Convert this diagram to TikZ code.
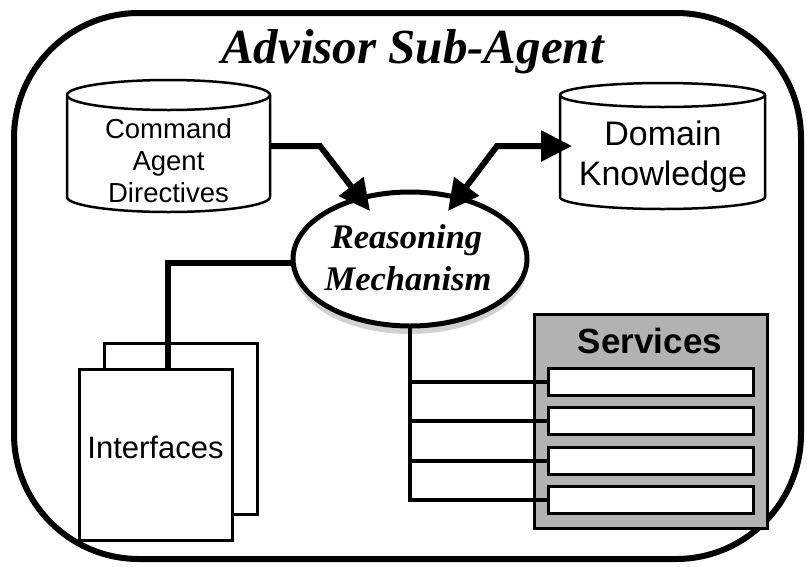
\documentclass[tikz,border=0pt]{standalone}
\usepackage{fontspec}
\setmainfont{Liberation Serif}
\setsansfont{Liberation Sans}
\usetikzlibrary{arrows.meta,shapes.geometric}

% Cylinder (data store) outline: left x, right x, centre y of top rim,
% y of bottom corners, vertical radius of the rims
\newcommand\drawdrum[5]{%
  \pgfmathsetmacro\drumrx{(#2-#1)/2}%
  \draw[drumline] (#1,#4) -- (#1,#3)
    arc[start angle=180,end angle=0,x radius=\drumrx pt,y radius=#5pt]
    -- (#2,#4)
    arc[start angle=0,end angle=-180,x radius=\drumrx pt,y radius=#5pt]
    -- cycle;
  \draw[drumline] (#1,#3)
    arc[start angle=180,end angle=360,x radius=\drumrx pt,y radius=#5pt];}

\tikzset{
  hold/.style={inner sep=0pt,outer sep=0pt},
  drumline/.style={line width=2.5pt,fill=white},
  frame/.style={draw,line width=6pt,rounded corners=125pt,hold},
  heavy/.style={line width=6pt},
  bigtip/.style={-{Triangle[length=31pt,width=30pt]}},
  twotips/.style={{Triangle[length=31pt,width=30pt]}-{Triangle[length=31pt,width=30pt]}},
  sheet/.style={draw,line width=3pt,fill=white,hold,minimum width=153pt,minimum height=171pt},
  svcbox/.style={draw,line width=3pt,fill=black!30,hold,minimum width=233pt,minimum height=214pt},
  slot/.style={draw,line width=3pt,fill=white,hold,minimum width=205pt,minimum height=27pt},
  wire/.style={line width=4pt},
  titlefont/.style={font=\fontsize{49}{52}\selectfont\bfseries\itshape},
  reasonfont/.style={font=\fontsize{34.5}{38}\selectfont\bfseries\itshape},
  cmdfont/.style={font=\fontsize{27.5}{30}\selectfont\sffamily},
  domfont/.style={font=\fontsize{34}{38}\selectfont\sffamily},
  ifont/.style={font=\fontsize{31}{34}\selectfont\sffamily},
  svcfont/.style={font=\fontsize{35}{38}\selectfont\sffamily\bfseries},
}

\begin{document}
\begin{tikzpicture}[x=1pt,y=-1pt]
\useasboundingbox (0,0) rectangle (807,566);

% outer agent boundary and its title
\node[frame,minimum width=787pt,minimum height=546pt] (agent) at (407.5,286) {};
\node[titlefont,anchor=base] (title) at (412.5,63) {Advisor Sub-Agent};

% data stores
\drawdrum{67}{270}{95}{197}{15}
\node[hold,minimum width=203pt,minimum height=128pt] (cmd) at (168.5,146) {};
\node[cmdfont,anchor=base] (cmd1) at (168.5,138) {Command};
\node[cmdfont,anchor=base] (cmd2) at (168.5,170) {Agent};
\node[cmdfont,anchor=base] (cmd3) at (168.5,202) {Directives};

\drawdrum{560}{765}{95}{197}{12}
\node[hold,minimum width=205pt,minimum height=128pt] (dom) at (662.5,146) {};
\node[domfont,anchor=base] (dom1) at (663,145) {Domain};
\node[domfont,anchor=base] (dom2) at (663,185) {Knowledge};

% reasoning core with its soft shadow
\fill[black!18] (410,267) ellipse [x radius=117pt,y radius=67pt];
\node[draw,ellipse,line width=5pt,fill=white,hold,
      minimum width=234pt,minimum height=134pt] (rm) at (410,259) {};
\node[reasonfont,anchor=base] (rm1) at (406.5,248) {Reasoning};
\node[reasonfont,anchor=base] (rm2) at (408,290) {Mechanism};

% arrow tips reach into the ellipse
\coordinate (tipA) at (370,211);
\coordinate (tipB) at (448,211);
\draw[heavy,bigtip] (cmd.east) -- ++(50,0) -- (tipA);
\draw[heavy,twotips] (tipB) -- ([xshift=-63pt]dom.west) -- ([xshift=12pt]dom.west);

% interface sheets
\node[sheet] (ifb) at (180.5,428.5) {};
\node[sheet] (iff) at (155.5,454.5) {};
\node[ifont,anchor=base] (iftext) at (155.5,458) {Interfaces};
\draw[heavy] ([yshift=-4pt]rm.west) -| ([xshift=12.5pt]iff.north);

% services panel
\node[svcbox] (svc) at (650.5,421) {};
\node[svcfont,anchor=base] (svctext) at (650,353) {Services};
\node[slot] (s1) at (650.5,381.5) {};
\node[slot] (s2) at (650.5,421) {};
\node[slot] (s3) at (650.5,460.5) {};
\node[slot] (s4) at (650.5,499.5) {};

\coordinate (bus) at (rm.south);
\draw[wire] (bus) |- (s4.west);
\draw[wire] (s1.west) -- (s1.west -| bus);
\draw[wire] (s2.west) -- (s2.west -| bus);
\draw[wire] (s3.west) -- (s3.west -| bus);
\end{tikzpicture}
\end{document}
